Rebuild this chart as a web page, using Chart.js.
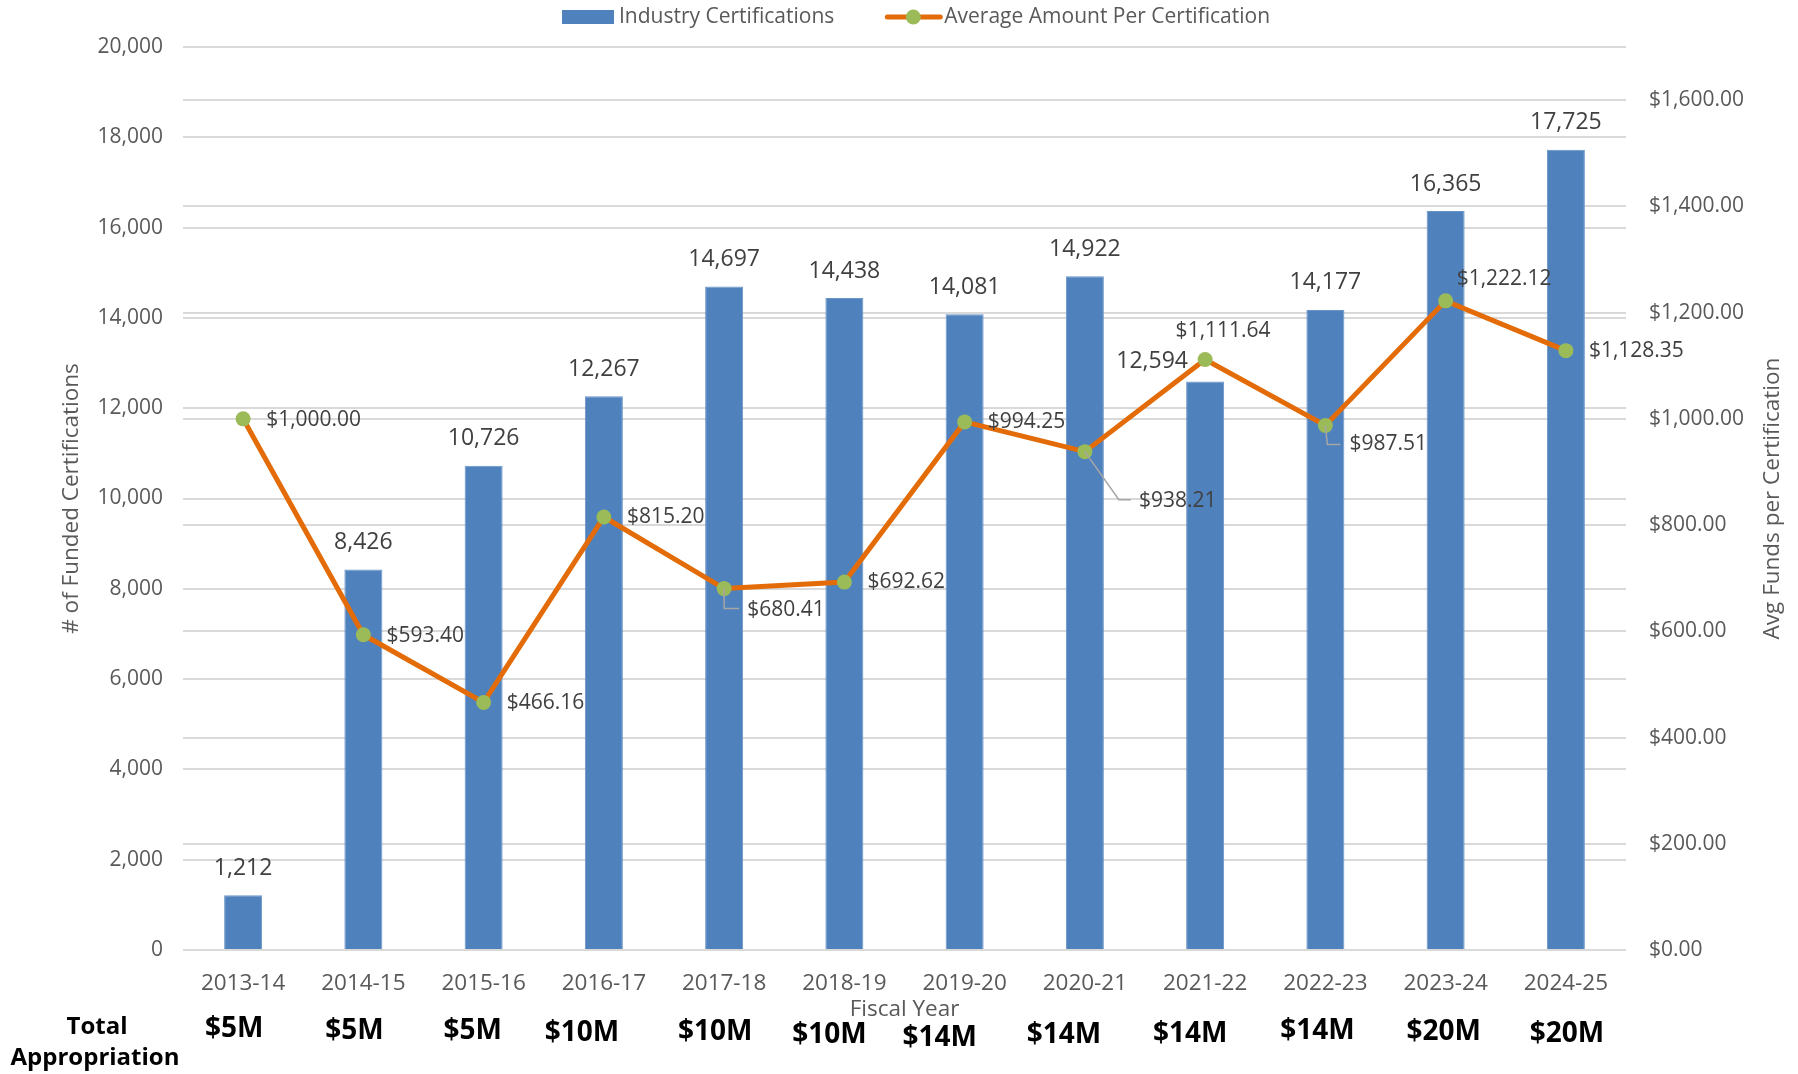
<!DOCTYPE html>
<html>
<head>
<meta charset="utf-8">
<script src="https://cdn.jsdelivr.net/npm/chart.js@4.4.0/dist/chart.umd.min.js"></script>
<style>
  body { margin: 0; background: #fff; }
  #wrap { width: 1798px; height: 1074px; position: relative; }
</style>
</head>
<body>
<div id="wrap"><canvas id="chart"></canvas></div>
<script>
// data
const fiscalYears = ['2013-14', '2014-15', '2015-16', '2016-17', '2017-18', '2018-19',
  '2019-20', '2020-21', '2021-22', '2022-23', '2023-24', '2024-25'];
const certifications = [1212, 8426, 10726, 12267, 14697, 14438, 14081, 14922, 12594, 14177, 16365, 17725];
const avgPerCert = [1000.00, 593.40, 466.16, 815.20, 680.41, 692.62, 994.25, 938.21, 1111.64, 987.51, 1222.12, 1128.35];
const appropriations = ['$5M', '$5M', '$5M', '$10M', '$10M', '$10M', '$14M', '$14M', '$14M', '$14M', '$20M', '$20M'];

const FONT = "'Open Sans', sans-serif";
const GRID = '#d9d9d9';
const TXT = '#595959';
const BLUE = '#4f81bd';
const ORANGE = '#e36c09';
const GREEN = '#9bbb59';

const fmtNum = v => v.toLocaleString('en-US');
const fmtMoney = v => '$' + v.toLocaleString('en-US', {minimumFractionDigits: 2, maximumFractionDigits: 2});

// label placement tweaks (pixels), like the hand-moved labels in the original
const lineLabelPos = [
  {dx: 23, dy: 1}, {dx: 23, dy: 1}, {dx: 23, dy: 1}, {dx: 23, dy: 0},
  {dx: 23, dy: 21, leader: [[0, 20], [15, 20]]},
  {dx: 23, dy: 0}, {dx: 23, dy: 0},
  {dx: 54, dy: 49, leader: [[34, 48], [46, 48]]},
  {dx: 18, dy: -29, center: true},
  {dx: 24, dy: 19, leader: [[2, 19], [15, 19]]},
  {dx: 11, dy: -22}, {dx: 23, dy: 0}
];
const barLabelShift = {8: [-53, 7]};
const approShift = [[-9, -3], [-9, -1], [-11, -1], [-22, 1], [-9, 0], [-15, 3],
  [-25, 6], [-21, 3], [-15, 2], [-8, -1], [-2, 0], [1, 2]];

const labelsPlugin = {
  id: 'labels',
  afterDatasetsDraw(chart) {
    const ctx = chart.ctx;
    const barMeta = chart.getDatasetMeta(0);
    const lineMeta = chart.getDatasetMeta(1);
    ctx.save();
    ctx.fillStyle = '#404040';
    ctx.textBaseline = 'middle';

    // bar values
    ctx.font = '23px ' + FONT;
    ctx.textAlign = 'center';
    barMeta.data.forEach((bar, i) => {
      const s = barLabelShift[i] || [0, 0];
      ctx.fillText(fmtNum(certifications[i]), bar.x + s[0], bar.y - 27 + s[1]);
    });

    // line values with leader lines
    ctx.font = '21px ' + FONT;
    lineMeta.data.forEach((pt, i) => {
      const p = lineLabelPos[i];
      if (p.leader) {
        ctx.strokeStyle = '#a6a6a6';
        ctx.lineWidth = 1.5;
        ctx.beginPath();
        ctx.moveTo(pt.x, pt.y);
        p.leader.forEach(l => ctx.lineTo(pt.x + l[0], pt.y + l[1]));
        ctx.stroke();
      }
      ctx.textAlign = p.center ? 'center' : 'left';
      ctx.fillText(fmtMoney(avgPerCert[i]), pt.x + p.dx, pt.y + p.dy);
    });
    ctx.restore();
  },
  afterDraw(chart) {
    const ctx = chart.ctx;
    const x = chart.scales.x;
    const area = chart.chartArea;
    ctx.save();
    ctx.fillStyle = '#000';
    ctx.textBaseline = 'middle';
    ctx.textAlign = 'center';
    ctx.font = 'bold 28px ' + FONT;
    appropriations.forEach((a, i) => {
      ctx.fillText(a, x.getPixelForValue(i) + approShift[i][0], 1032 + approShift[i][1]);
    });
    ctx.font = 'bold 24px ' + FONT;
    ctx.fillText('Total', 97, 1027);
    ctx.fillText('Appropriation', 95, 1058);

    // right axis title, reading upwards like the left one
    ctx.save();
    ctx.fillStyle = TXT;
    ctx.font = '22.5px ' + FONT;
    ctx.translate(1773, (area.top + area.bottom) / 2);
    ctx.rotate(-Math.PI / 2);
    ctx.fillText('Avg Funds per Certification', 0, 0);
    ctx.restore();

    // legend
    ctx.font = '21px ' + FONT;
    ctx.textAlign = 'left';
    const names = chart.data.datasets.map(d => d.label);
    let lx = 562;
    const ly = 17;
    ctx.fillStyle = BLUE;
    ctx.fillRect(lx, ly - 7, 52, 14);
    ctx.fillStyle = TXT;
    ctx.fillText(names[0], lx + 57, ly);
    lx += 57 + ctx.measureText(names[0]).width + 51;
    ctx.strokeStyle = ORANGE;
    ctx.lineWidth = 5;
    ctx.lineCap = 'round';
    ctx.beginPath();
    ctx.moveTo(lx + 2, ly);
    ctx.lineTo(lx + 55, ly);
    ctx.stroke();
    ctx.fillStyle = GREEN;
    ctx.beginPath();
    ctx.arc(lx + 28, ly, 7.5, 0, Math.PI * 2);
    ctx.fill();
    ctx.fillStyle = TXT;
    ctx.fillText(names[1], lx + 59, ly);
    ctx.restore();
  }
};

new Chart(document.getElementById('chart'), {
  data: {
    labels: fiscalYears,
    datasets: [
      {
        type: 'bar',
        label: 'Industry Certifications',
        data: certifications,
        backgroundColor: BLUE,
        borderColor: '#6a94c8',
        borderWidth: 1,
        barPercentage: 1,
        categoryPercentage: 0.316,
        yAxisID: 'y',
        order: 2
      },
      {
        type: 'line',
        label: 'Average Amount Per Certification',
        data: avgPerCert,
        borderColor: ORANGE,
        borderWidth: 5,
        pointRadius: 7.5,
        pointBackgroundColor: GREEN,
        pointBorderColor: GREEN,
        pointBorderWidth: 0,
        tension: 0,
        yAxisID: 'y1',
        order: 1
      }
    ]
  },
  options: {
    responsive: true,
    maintainAspectRatio: false,
    animation: false,
    layout: {padding: {left: 48, right: 12, top: 47, bottom: 0}},
    plugins: {
      legend: {display: false},
      tooltip: {enabled: false}
    },
    scales: {
      x: {
        grid: {display: false, drawTicks: false},
        border: {display: false},
        ticks: {color: TXT, font: {family: FONT, size: 22.5}, padding: 20, maxRotation: 0, autoSkip: false},
        title: {display: true, text: 'Fiscal Year', color: TXT, font: {family: FONT, size: 22.5}, padding: {top: 0, bottom: 51}},
        afterFit: s => { s.height = 124; }
      },
      y: {
        position: 'left',
        min: 0,
        max: 20000,
        grid: {color: GRID, lineWidth: 2, drawTicks: false},
        border: {display: false},
        ticks: {stepSize: 2000, color: TXT, font: {family: FONT, size: 21}, padding: 20, callback: v => fmtNum(v)},
        title: {display: true, text: '# of Funded Certifications', color: TXT, font: {family: FONT, size: 22.5}, padding: {top: 10, bottom: 0}},
        afterFit: s => { s.width = 135; }
      },
      y1: {
        position: 'right',
        min: 0,
        max: 1700,
        grid: {color: GRID, lineWidth: 2, drawTicks: false},
        border: {display: false},
        ticks: {stepSize: 200, includeBounds: false, color: TXT, font: {family: FONT, size: 21}, padding: 23, callback: v => fmtMoney(v)},
        title: {display: false},
        afterFit: s => { s.width = 160; }
      }
    }
  },
  plugins: [labelsPlugin]
});
</script>
</body>
</html>
